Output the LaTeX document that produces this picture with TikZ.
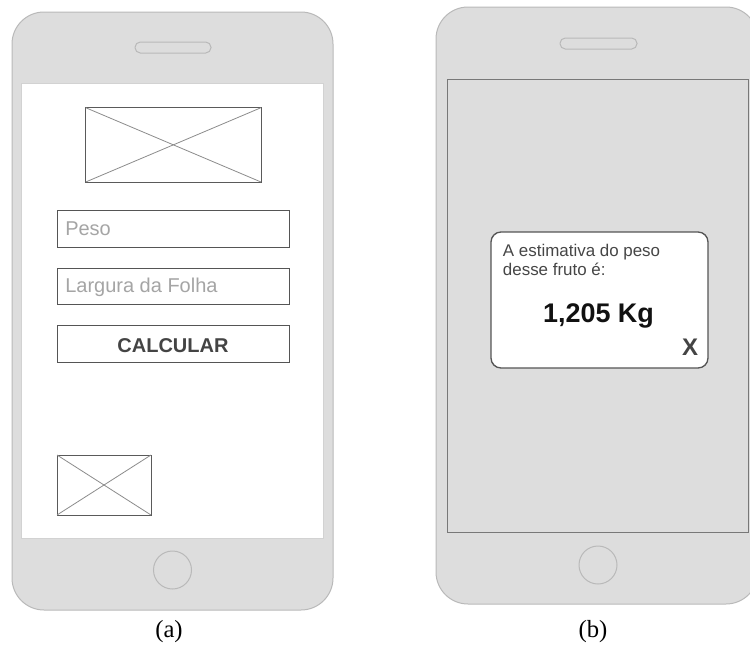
\documentclass[tikz,border=0pt]{standalone}
\usepackage{fontspec}
\setmainfont{Liberation Serif}
\setsansfont{Liberation Sans}
\usepackage{tikz}
\usepackage{xcolor}

\begin{document}
\begin{tikzpicture}[x=0.75pt,y=0.75pt,yscale=-1,xscale=1]
%set diagram left start at 0, and has height of 646
\useasboundingbox (0,0) rectangle (750,646);
\clip (0,0) rectangle (750,646);

%Shape: Phone Body [id:phoneA]
\draw [color={rgb, 255:red, 185; green, 185; blue, 185 }, fill={rgb, 255:red, 221; green, 221; blue, 221 }, line width=0.75pt, rounded corners=24pt] (12,12) rectangle (333,610) ;
%Shape: Speaker [id:speakerA]
\draw [color={rgb, 255:red, 185; green, 185; blue, 185 }, fill={rgb, 255:red, 221; green, 221; blue, 221 }, line width=0.75pt, rounded corners=4pt] (135,42) rectangle (211,53) ;
%Shape: Screen [id:screenA]
\draw [color={rgb, 255:red, 210; green, 210; blue, 210 }, fill={rgb, 255:red, 255; green, 255; blue, 255 }, line width=0.5pt] (21.7,83) rectangle (323,538) ;
%Shape: Home Button [id:homeA]
\draw [color={rgb, 255:red, 185; green, 185; blue, 185 }, line width=0.75pt] (172.5,570) circle (14.25pt) ;

%Shape: Image [id:imgTop]
\draw [color={rgb, 255:red, 90; green, 90; blue, 90 }, line width=0.75pt] (85.7,107.7) rectangle (261,182) ;
\draw [color={rgb, 255:red, 140; green, 140; blue, 140 }, line width=0.6pt] (85.7,107.7) -- (261,182) ;
\draw [color={rgb, 255:red, 140; green, 140; blue, 140 }, line width=0.6pt] (261,107.7) -- (85.7,182) ;
%Shape: Text Field [id:fieldPeso]
\draw [color={rgb, 255:red, 85; green, 85; blue, 85 }, line width=0.75pt] (57,210) rectangle (289,247) ;
%Shape: Text Field [id:fieldLargura]
\draw [color={rgb, 255:red, 85; green, 85; blue, 85 }, line width=0.75pt] (57,268) rectangle (289,304) ;
%Shape: Button [id:btnCalc]
\draw [color={rgb, 255:red, 85; green, 85; blue, 85 }, line width=0.75pt] (57,325) rectangle (289,362) ;
%Shape: Image [id:imgBottom]
\draw [color={rgb, 255:red, 90; green, 90; blue, 90 }, line width=0.75pt] (57,455) rectangle (151,515) ;
\draw [color={rgb, 255:red, 140; green, 140; blue, 140 }, line width=0.6pt] (57,455) -- (151,515) ;
\draw [color={rgb, 255:red, 140; green, 140; blue, 140 }, line width=0.6pt] (151,455) -- (57,515) ;

%Shape: Phone Body [id:phoneB]
\draw [color={rgb, 255:red, 185; green, 185; blue, 185 }, fill={rgb, 255:red, 221; green, 221; blue, 221 }, line width=0.75pt, rounded corners=24pt] (436,7) rectangle (758,604) ;
%Shape: Speaker [id:speakerB]
\draw [color={rgb, 255:red, 185; green, 185; blue, 185 }, fill={rgb, 255:red, 221; green, 221; blue, 221 }, line width=0.75pt, rounded corners=4pt] (560,38) rectangle (637,49) ;
%Shape: Screen [id:screenB]
\draw [color={rgb, 255:red, 120; green, 120; blue, 120 }, line width=0.75pt] (447,79) rectangle (748,532) ;
%Shape: Home Button [id:homeB]
\draw [color={rgb, 255:red, 185; green, 185; blue, 185 }, line width=0.75pt] (598,565) circle (14.25pt) ;
%Shape: Dialog [id:dialog]
\draw [color={rgb, 255:red, 85; green, 85; blue, 85 }, fill={rgb, 255:red, 255; green, 255; blue, 255 }, line width=1pt, rounded corners=7.5pt] (491,232) rectangle (708,368) ;

% Text Node
\draw (65,235.3) node [anchor=base west][inner sep=0pt] [font=\sffamily\fontsize{15}{18}\selectfont, color={rgb, 255:red, 165; green, 165; blue, 165 }] (peso) {Peso};
% Text Node
\draw (65,292.3) node [anchor=base west][inner sep=0pt] [font=\sffamily\fontsize{15}{18}\selectfont, color={rgb, 255:red, 165; green, 165; blue, 165 }] (largura) {Largura da Folha};
% Text Node
\draw (173,352.3) node [anchor=base][inner sep=0pt] [font=\sffamily\bfseries\fontsize{15}{18}\selectfont, color={rgb, 255:red, 68; green, 68; blue, 68 }] (calcular) {CALCULAR};
% Text Node
\draw (502.7,256.7) node [anchor=base west][inner sep=0pt] [font=\sffamily\fontsize{12.7}{15}\selectfont, color={rgb, 255:red, 70; green, 70; blue, 70 }] (linha1) {A estimativa do peso};
% Text Node
\draw (502.7,275) node [anchor=base west][inner sep=0pt] [font=\sffamily\fontsize{12.7}{15}\selectfont, color={rgb, 255:red, 70; green, 70; blue, 70 }] (linha2) {desse fruto é:};
% Text Node
\draw (598.5,322.7) node [anchor=base][inner sep=0pt] [font=\sffamily\bfseries\fontsize{20.2}{24}\selectfont, color={rgb, 255:red, 17; green, 17; blue, 17 }] (resultado) {1,205 Kg};
% Text Node
\draw (690,355) node [anchor=base][inner sep=0pt] [font=\sffamily\bfseries\fontsize{18}{22}\selectfont, color={rgb, 255:red, 68; green, 68; blue, 68 }] (fechar) {X};
% Text Node
\draw (169,637) node [anchor=base][inner sep=0pt] [font=\fontsize{18.5}{22}\selectfont] (rotuloA) {(a)};
% Text Node
\draw (593,637) node [anchor=base][inner sep=0pt] [font=\fontsize{18.5}{22}\selectfont] (rotuloB) {(b)};

\end{tikzpicture}
\end{document}
